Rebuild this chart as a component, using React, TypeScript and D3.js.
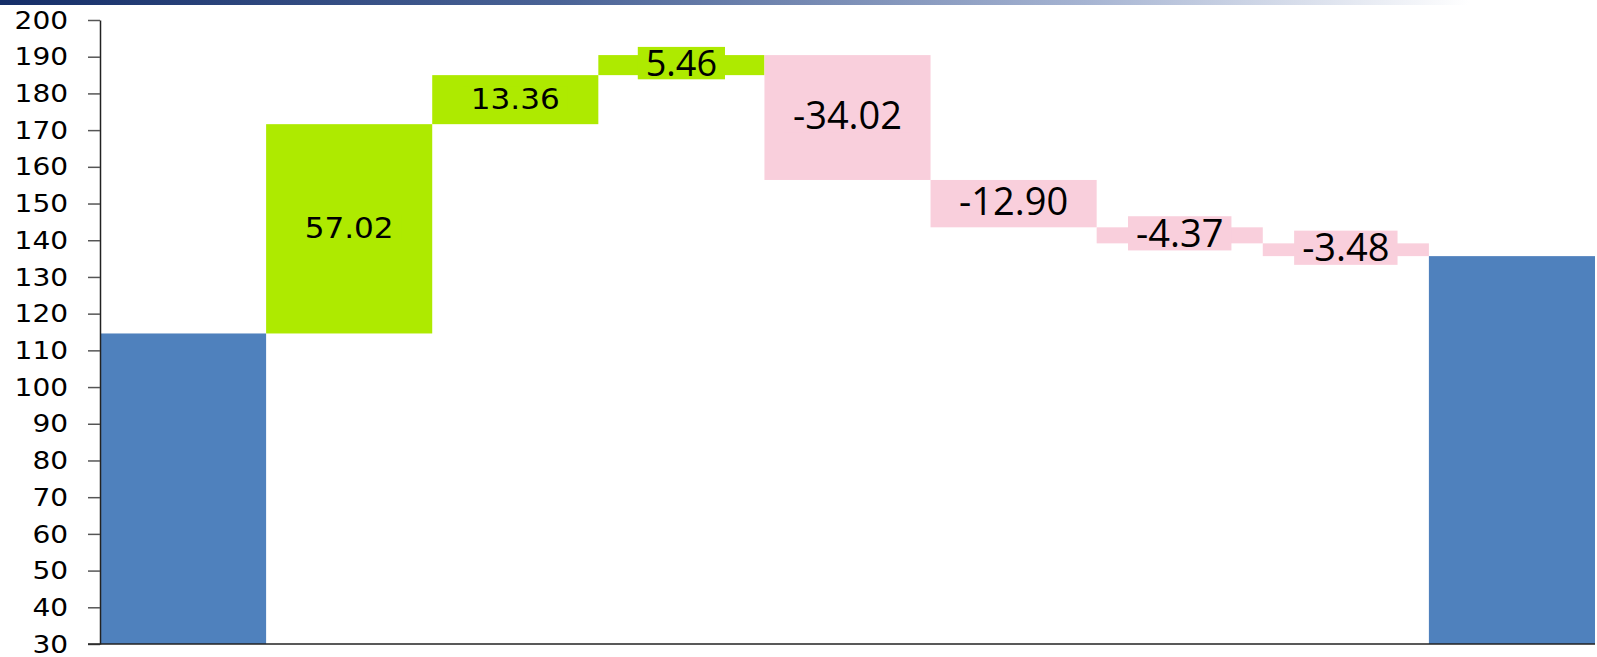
import { useEffect, useRef } from "react";
import * as d3 from "d3";

// waterfall steps: opening value, the changes, then the closing total
const startValue = 114.6;
const steps = ["s1", "s2", "s3", "s4", "s5", "s6", "s7"];
const deltas = [57.02, 13.36, 5.46, -34.02, -12.9, -4.37, -3.48];
const yTicks = [30, 40, 50, 60, 70, 80, 90, 100, 110, 120, 130, 140, 150, 160, 170, 180, 190, 200];

const W = 1597;
const H = 657;

interface Bar {
  key: string;
  y0: number;
  y1: number;
  kind: "total" | "up" | "down";
  delta: number | null;
}

export default function App() {
  const svgRef = useRef<SVGSVGElement | null>(null);

  useEffect(() => {
    const svg = d3.select(svgRef.current);
    svg.selectAll("*").remove();

    // build running totals
    const bars: Bar[] = [{ key: "start", y0: 0, y1: startValue, kind: "total", delta: null }];
    let run = startValue;
    steps.forEach((k, i) => {
      const next = run + deltas[i];
      bars.push({ key: k, y0: run, y1: next, kind: deltas[i] >= 0 ? "up" : "down", delta: deltas[i] });
      run = next;
    });
    bars.push({ key: "end", y0: 0, y1: run, kind: "total", delta: null });

    const left = 100;
    const right = 1595;
    const x = d3
      .scaleBand()
      .domain(bars.map((b) => b.key))
      .range([left, right])
      .padding(0);
    const y = d3.scaleLinear().domain([30, 200]).range([644, 20]);

    const colors = { total: "#4f81bd", up: "#aeea00", down: "#f9cfdc" };

    // top gradient strip
    const defs = svg.append("defs");
    const grad = defs
      .append("linearGradient")
      .attr("id", "topbar")
      .attr("x1", 0)
      .attr("x2", 1);
    grad.append("stop").attr("offset", "0%").attr("stop-color", "#152e68");
    grad.append("stop").attr("offset", "35%").attr("stop-color", "#4a6396");
    grad.append("stop").attr("offset", "68%").attr("stop-color", "#a6b4d2");
    grad.append("stop").attr("offset", "92%").attr("stop-color", "#ffffff");
    svg.append("rect").attr("x", 0).attr("y", 0).attr("width", W).attr("height", 5).attr("fill", "url(#topbar)");

    // bars
    svg
      .append("g")
      .selectAll("rect")
      .data(bars)
      .join("rect")
      .attr("x", (d) => x(d.key)!)
      .attr("width", x.bandwidth())
      .attr("y", (d) => y(Math.max(d.y0 < 30 ? 30 : d.y0, d.y1)))
      .attr("height", (d) => Math.abs(y(Math.max(d.y0, 30)) - y(d.y1)))
      .attr("fill", (d) => colors[d.kind]);

    // y axis
    const yAxis = svg
      .append("g")
      .attr("transform", `translate(${left},0)`)
      .call(
        d3
          .axisLeft(y)
          .tickValues(yTicks)
          .tickSize(12)
          .tickPadding(17)
          .tickSizeOuter(0)
      );
    yAxis.select(".domain").attr("stroke", "#222").attr("stroke-width", 1.5);
    yAxis.selectAll(".tick line").attr("stroke", "#555").attr("stroke-width", 1.5);
    yAxis
      .selectAll<SVGTextElement, number>(".tick text")
      .attr("font-family", "'DejaVu Sans', Verdana, sans-serif")
      .attr("font-size", 25.5)
      .attr("fill", "#000")
      .attr("transform", "scale(1.1,1)");

    // bottom axis line
    svg
      .append("line")
      .attr("x1", 88)
      .attr("x2", right)
      .attr("y1", y(30))
      .attr("y2", y(30))
      .attr("stroke", "#222")
      .attr("stroke-width", 1.5);

    // value labels with a box in the bar colour
    const labels = svg.append("g");
    bars.forEach((b, i) => {
      if (b.delta === null) return;
      const cx = x(b.key)! + x.bandwidth() / 2;
      const cy = (y(b.y0) + y(b.y1)) / 2;
      const isVerdana = i <= 2;
      const fs = isVerdana ? 28 : i === 3 ? 36 : 38;
      const capH = isVerdana ? fs * 0.729 : fs * 0.714;
      const sx = isVerdana ? 1.11 : 1;
      const g = labels.append("g").attr("transform", `translate(${cx},${cy - (isVerdana ? 1 : 2)})`);
      const box = g.append("rect").attr("fill", colors[b.kind]);
      const t = g
        .append("text")
        .attr("text-anchor", "middle")
        .attr("font-family", isVerdana ? "'DejaVu Sans', Verdana, sans-serif" : "'Open Sans', 'Noto Sans', sans-serif")
        .attr("font-size", fs)
        .attr("fill", "#000")
        .attr("y", capH / 2)
        .attr("transform", `scale(${sx},1)`)
        .text(b.delta.toFixed(2));
      const tw = (t.node() as SVGTextElement).getComputedTextLength() * sx;
      const bw = tw + 16;
      const bh = fs * 0.9;
      box
        .attr("x", -bw / 2)
        .attr("y", -bh / 2)
        .attr("width", bw)
        .attr("height", bh);
    });
  }, []);

  return (
    <div style={{ position: "absolute", left: 0, top: 0, width: W, height: H, background: "#fff" }}>
      <svg ref={svgRef} width={W} height={H} style={{ display: "block" }}></svg>
    </div>
  );
}
